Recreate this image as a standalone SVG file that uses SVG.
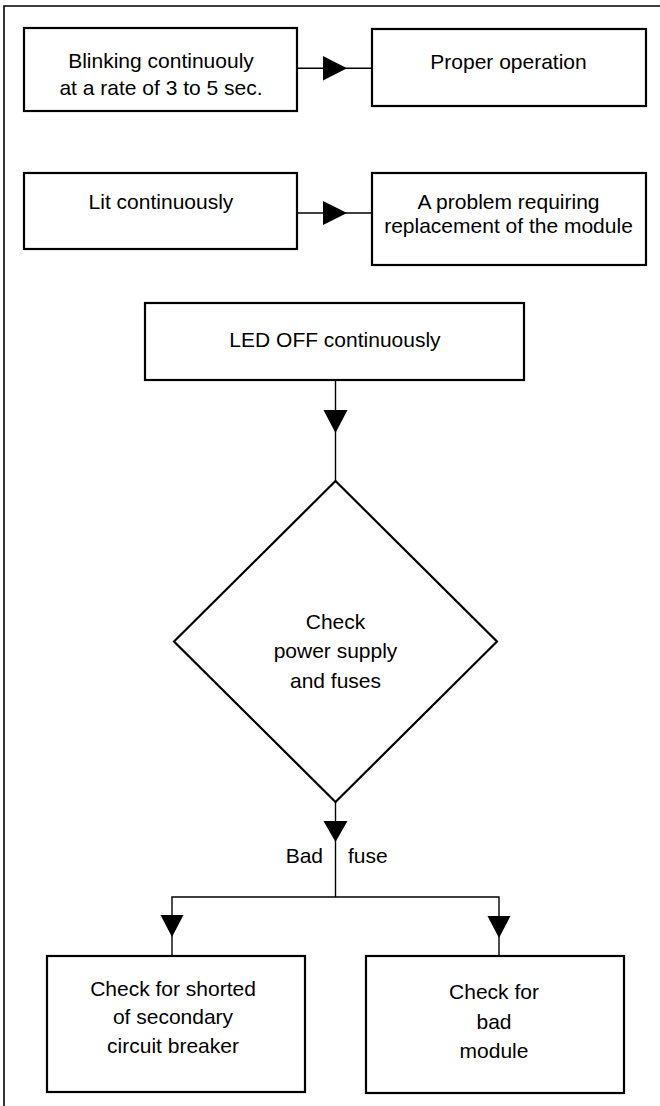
<svg xmlns="http://www.w3.org/2000/svg" width="660" height="1106" viewBox="0 0 660 1106">
  <style>
    .box { fill: #ffffff; stroke: #000000; stroke-width: 2.2; }
    .frame { fill: none; stroke: #000000; stroke-width: 1.6; }
    .wire { fill: none; stroke: #000000; stroke-width: 1.4; }
    .head { fill: #000000; stroke: none; }
    text { font-family: "Liberation Sans", Arial, Helvetica, sans-serif; font-size: 21px; fill: #000000; }
    .c { text-anchor: middle; }
  </style>
  <rect width="660" height="1106" fill="#ffffff"/>
  <g id="frame">
    <path class="frame" d="M4,1106 V6 H660"/>
  </g>
  <g id="connectors">
    <path class="wire" d="M297,68.3 H372"/>
    <polygon class="head" points="323,56 347,68.3 323,80.6"/>
    <path class="wire" d="M297,213 H372"/>
    <polygon class="head" points="323,201 347,213 323,225"/>
    <path class="wire" d="M335.5,380 V481"/>
    <polygon class="head" points="323.5,410 347.5,410 335.5,433"/>
    <path class="wire" d="M335.5,802 V897"/>
    <polygon class="head" points="323.5,821 347.5,821 335.5,842"/>
    <path class="wire" d="M172,956 V897 H499 V956"/>
    <polygon class="head" points="160.5,915 183.5,915 172,937"/>
    <polygon class="head" points="487.5,916 510.5,916 499,938"/>
    <text x="323" y="863" text-anchor="end">Bad</text>
    <text x="348" y="863">fuse</text>
  </g>
  <g id="node-blinking">
    <rect class="box" x="24" y="28" width="273" height="83"/>
    <text class="c" x="161" y="67.5">Blinking continuouly</text>
    <text class="c" x="161" y="95">at a rate of 3 to 5 sec.</text>
  </g>
  <g id="node-proper">
    <rect class="box" x="372" y="29" width="274" height="77"/>
    <text class="c" x="508.5" y="69">Proper operation</text>
  </g>
  <g id="node-lit">
    <rect class="box" x="24" y="173" width="273" height="76"/>
    <text class="c" x="161" y="209">Lit continuously</text>
  </g>
  <g id="node-problem">
    <rect class="box" x="372" y="173" width="274" height="92"/>
    <text class="c" x="508.5" y="208.5">A problem requiring</text>
    <text class="c" x="508.5" y="232.5">replacement of the module</text>
  </g>
  <g id="node-ledoff">
    <rect class="box" x="145" y="303" width="379" height="77"/>
    <text class="c" x="335" y="347">LED OFF continuously</text>
  </g>
  <g id="node-check-power">
    <polygon class="box" points="335.5,481 497,641.5 335.5,802 174,641.5"/>
    <text class="c" x="335.5" y="629">Check</text>
    <text class="c" x="335.5" y="658">power supply</text>
    <text class="c" x="335.5" y="687.5">and fuses</text>
  </g>
  <g id="node-check-breaker">
    <rect class="box" x="47" y="956" width="258" height="136"/>
    <text class="c" x="173" y="996">Check for shorted</text>
    <text class="c" x="173" y="1024">of secondary</text>
    <text class="c" x="173" y="1053">circuit breaker</text>
  </g>
  <g id="node-check-module">
    <rect class="box" x="366" y="956" width="258" height="137"/>
    <text class="c" x="494" y="999">Check for</text>
    <text class="c" x="494" y="1029">bad</text>
    <text class="c" x="494" y="1058">module</text>
  </g>
</svg>
